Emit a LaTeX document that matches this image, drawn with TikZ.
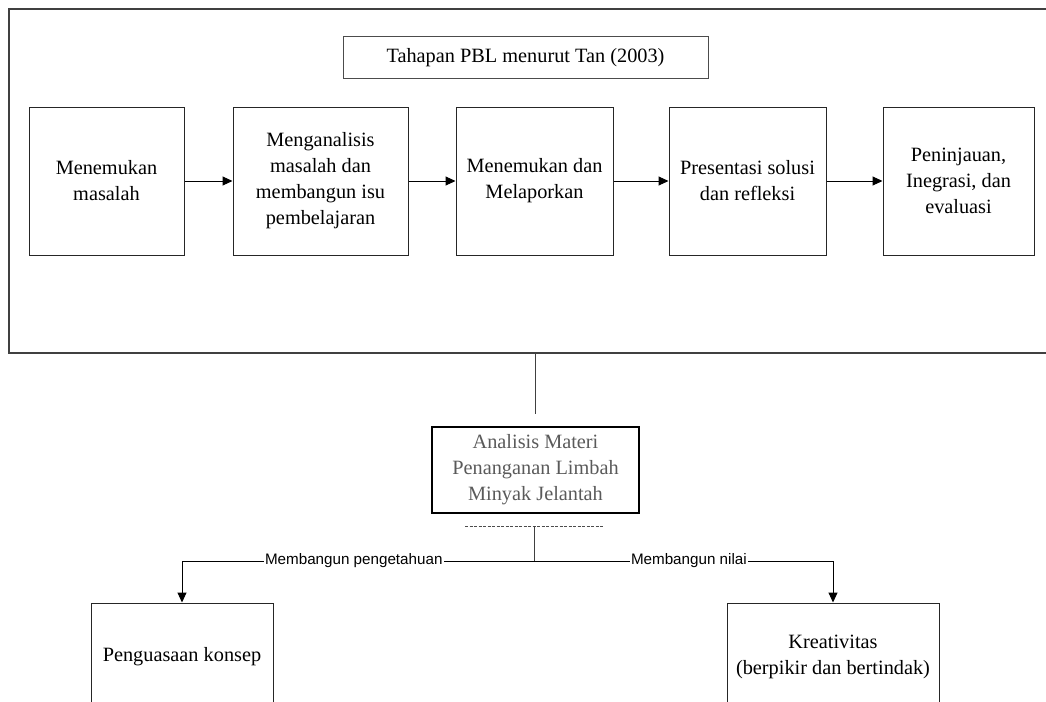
\documentclass[tikz,border=0pt]{standalone}
\usepackage{fontspec}
\setmainfont{Liberation Serif}
\newfontfamily\labelfont{Liberation Sans}
\usepackage{xcolor}
\definecolor{framegray}{RGB}{64, 64, 64}
\definecolor{textgray}{RGB}{90, 90, 90}
\usepackage{tikz}
\usetikzlibrary{arrows.meta,positioning,calc}

\begin{document}
\begin{tikzpicture}[
    x=1pt, y=-1pt,
    font=\fontsize{20.3}{26}\selectfont,
    outer/.style={rectangle, draw=framegray, line width=1.5pt, minimum width=1047pt, minimum height=344pt},
    titlebox/.style={rectangle, draw=black!70, line width=1pt, minimum width=365pt, minimum height=41pt, inner sep=0pt},
    stage/.style={rectangle, draw=black!85, line width=1pt, minimum width=157pt, minimum height=148pt, align=center, inner sep=2pt},
    focus/.style={rectangle, draw=black, line width=2.5pt, minimum width=207pt, minimum height=86pt, align=center, text=textgray, inner sep=0pt},
    result/.style={rectangle, draw=black!85, line width=1pt, minimum height=108pt, align=center, inner sep=2pt},
    arrow/.style={-{Triangle[length=10pt, width=9pt]}, line width=1pt},
    line/.style={line width=1pt, draw=black!75},
    tag/.style={font=\labelfont\fontsize{15.2}{17}\selectfont, fill=white, inner sep=1pt}
]
\useasboundingbox (0,0) rectangle (1046,701);
\clip (0,0) rectangle (1046,701);

% tahapan PBL
\node[outer] (tahap) at (532.5,181) {};
\node[titlebox] (judul) at (525.5,57.5) {Tahapan PBL menurut Tan (2003)};

\node[stage, minimum width=155pt] (temukan) at (106.5,181) {Menemukan\\masalah};
\node[stage, minimum width=175pt, right=48pt of temukan] (analisa) {Menganalisis\\masalah dan\\membangun isu\\pembelajaran};
\node[stage, right=47pt of analisa] (lapor) {Menemukan dan\\Melaporkan};
\node[stage, right=55pt of lapor] (presentasi) {Presentasi solusi\\dan refleksi};
\node[stage, minimum width=151pt, right=56pt of presentasi] (evaluasi) {Peninjauan,\\Inegrasi, dan\\evaluasi};

\draw[arrow] (temukan) -- (analisa);
\draw[arrow] (analisa) -- (lapor);
\draw[arrow] (lapor) -- (presentasi);
\draw[arrow] (presentasi) -- (evaluasi);

% analisis materi
\node[focus] (materi) at (535.5,470) {Analisis Materi\\Penanganan Limbah\\Minyak Jelantah};
\draw[line, shorten >=12pt] (materi.north |- tahap.south) -- (materi.north);

\coordinate (dashL) at (465,526);
\coordinate (dashR) at (603,526);
\coordinate (split) at (534,526);
\coordinate (fork) at (534,561);
\draw[black!70, dashed, dash pattern=on 3pt off 1.5pt, line width=0.8pt] (dashL) -- (dashR);

% hasil
\node[result, minimum width=182pt] (konsep) at (182,657) {Penguasaan konsep};
\node[result, minimum width=212pt] (kreatif) at (833,657) {Kreativitas\\(berpikir dan bertindak)};

\draw[line] (split) -- (fork);
\draw[arrow] (fork) -| (konsep) node[tag, pos=0.256] {Membangun pengetahuan};
\draw[arrow] (fork) -| (kreatif) node[tag, pos=0.259] {Membangun nilai};

\end{tikzpicture}
\end{document}
